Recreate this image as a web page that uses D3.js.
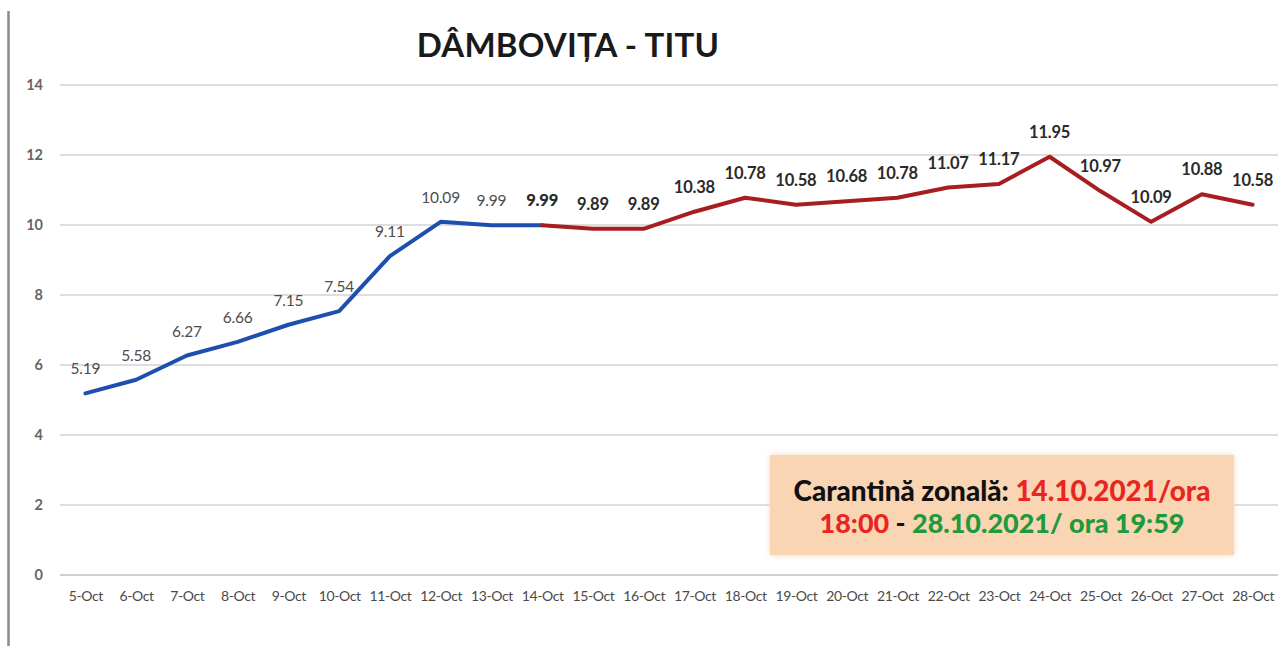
<!DOCTYPE html>
<html>
<head>
<meta charset="utf-8">
<script src="https://cdn.jsdelivr.net/npm/d3@7/dist/d3.min.js"></script>
<style>
  html, body { margin: 0; padding: 0; background: #ffffff; }
  svg { display: block; }
</style>
</head>
<body>
<svg id="chart" width="1286" height="646"></svg>
<script>
const title = "DÂMBOVIȚA - TITU";
const categories = ["5-Oct","6-Oct","7-Oct","8-Oct","9-Oct","10-Oct","11-Oct","12-Oct","13-Oct","14-Oct","15-Oct","16-Oct","17-Oct","18-Oct","19-Oct","20-Oct","21-Oct","22-Oct","23-Oct","24-Oct","25-Oct","26-Oct","27-Oct","28-Oct"];
const values = [5.19,5.58,6.27,6.66,7.15,7.54,9.11,10.09,9.99,9.99,9.89,9.89,10.38,10.78,10.58,10.68,10.78,11.07,11.17,11.95,10.97,10.09,10.88,10.58];
const quarantineStart = "14-Oct";
const yTicks = [0,2,4,6,8,10,12,14];
const noteLine1 = [["Carantină zonală: ","black"],["14.10.2021/ora","red"]];
const noteLine2 = [["18:00","red"],[" - ","black"],["28.10.2021/ ora 19:59","green"]];

const colors = { blue: "#1f4fae", red: "#a81d1f", black: "#111111", noteRed: "#e8261f", noteGreen: "#1f9a3a" };
const FONT = "Lato, 'Open Sans', sans-serif";

const svg = d3.select("#chart");
const plot = { left: 60, right: 1278, top: 85, bottom: 575 };

const x = d3.scalePoint().domain(categories).range([plot.left, plot.right]).padding(0.5);
const y = d3.scaleLinear().domain([0, 14]).range([plot.bottom, plot.top]);

// left frame line
svg.append("line").attr("x1", 8.5).attr("x2", 8.5).attr("y1", 11).attr("y2", 646)
  .attr("stroke", "#8a8a8a").attr("stroke-width", 2.5);

// gridlines
svg.append("g").selectAll("line").data(yTicks).join("line")
  .attr("x1", plot.left).attr("x2", plot.right)
  .attr("y1", d => y(d)).attr("y2", d => y(d))
  .attr("stroke", d => d === 0 ? "#cfcfcf" : "#dedede").attr("stroke-width", 2);

// y axis labels
const yAxis = d3.axisLeft(y).tickValues(yTicks).tickSize(0).tickPadding(0);
const yg = svg.append("g").attr("transform", `translate(43,0)`).call(yAxis);
yg.select(".domain").remove();
yg.selectAll("text").attr("font-family", FONT)
  .attr("font-size", 14.5).attr("font-weight", 700).attr("fill", "#666");

// x axis labels
const xAxis = d3.axisBottom(x).tickSize(0).tickPadding(0);
const xg = svg.append("g").attr("transform", `translate(0,591)`).call(xAxis);
xg.select(".domain").remove();
xg.selectAll("text").attr("font-family", FONT)
  .attr("font-size", 14).attr("fill", "#4a4a4a").attr("letter-spacing", -0.4);

// title
svg.append("text").attr("x", 568).attr("y", 57).attr("text-anchor", "middle")
  .attr("font-family", FONT).attr("font-weight", 700)
  .attr("font-size", 33).attr("fill", "#1a1a1a").attr("letter-spacing", 0.2).text(title);

// lines
const data = categories.map((c, i) => ({ c, v: values[i], i }));
const splitIdx = categories.indexOf(quarantineStart);
const line = d3.line().x(d => x(d.c)).y(d => y(d.v));
svg.append("path").datum(data.slice(0, splitIdx + 1)).attr("d", line)
  .attr("fill", "none").attr("stroke", colors.blue).attr("stroke-width", 4)
  .attr("stroke-linejoin", "round").attr("stroke-linecap", "round");
svg.append("path").datum(data.slice(splitIdx)).attr("d", line)
  .attr("fill", "none").attr("stroke", colors.red).attr("stroke-width", 4)
  .attr("stroke-linejoin", "round").attr("stroke-linecap", "round");

// data labels
svg.append("g").selectAll("text").data(data).join("text")
  .attr("x", d => x(d.c)).attr("y", d => y(d.v) - 19)
  .attr("text-anchor", "middle")
  .attr("font-family", FONT)
  .attr("font-size", d => d.i < splitIdx ? 15.5 : 16.5)
  .attr("font-weight", d => d.i < splitIdx ? 400 : (d.i === splitIdx ? 900 : 700))
  .attr("fill", d => d.i < splitIdx ? "#4d4d4d" : "#2a2a2a")
  .attr("letter-spacing", -0.2)
  .text(d => d.v.toFixed(2));

// note box
const defs = svg.append("defs");
const f = defs.append("filter").attr("id", "sh").attr("x", "-10%").attr("y", "-20%").attr("width", "120%").attr("height", "140%");
f.append("feDropShadow").attr("dx", 0).attr("dy", 0).attr("stdDeviation", 3).attr("flood-color", "#f3d6bd").attr("flood-opacity", 0.9);
const box = { x: 770, y: 455, w: 464, h: 100 };
svg.append("rect").attr("x", box.x).attr("y", box.y).attr("width", box.w).attr("height", box.h)
  .attr("fill", "#f9d5b4").attr("filter", "url(#sh)");

const colorMap = { black: colors.black, red: colors.noteRed, green: colors.noteGreen };
function noteText(parts, yy, targetW) {
  const t = svg.append("text").attr("x", box.x + box.w / 2).attr("y", yy).attr("text-anchor", "middle")
    .attr("font-family", FONT).attr("font-weight", 900).attr("font-size", 22);
  t.selectAll("tspan").data(parts).join("tspan").attr("fill", d => colorMap[d[1]])
    .style("white-space", "pre").text(d => d[0]);
  const w = t.node().getComputedTextLength();
  t.attr("font-size", 22 * targetW / w);
}
noteText(noteLine1, 501, 417);
noteText(noteLine2, 533, 365);
</script>
</body>
</html>
